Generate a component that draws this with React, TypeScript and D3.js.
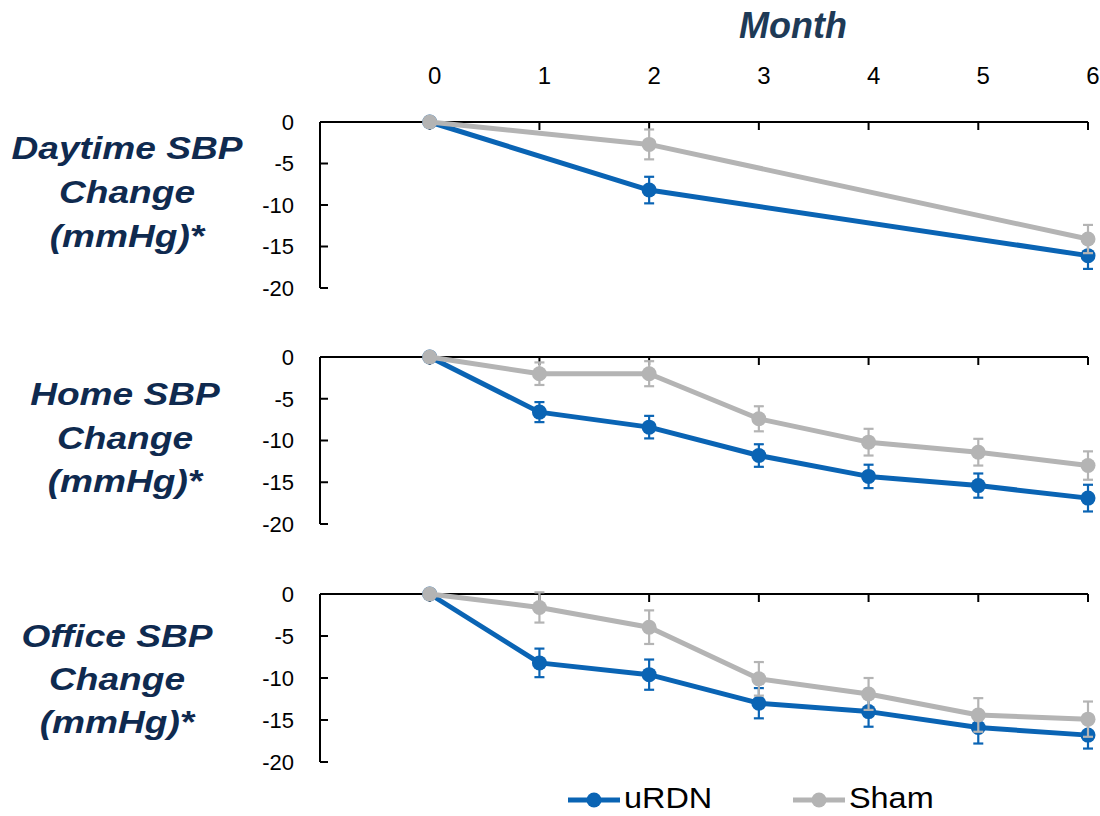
import React, { useEffect, useRef } from 'react';
import * as d3 from 'd3';

// months on the shared x axis
const months = [0, 1, 2, 3, 4, 5, 6];
const yTicks = [0, -5, -10, -15, -20];

// daytime ambulatory SBP (only measured at 0, 2 and 6 months)
const dayMonths = [0, 2, 6];
const dayURDN = [0, -8.2, -16.1];
const dayURDNErr = [0, 1.6, 1.6];
const daySham = [0, -2.7, -14.1];
const dayShamErr = [0, 1.8, 1.7];

// home SBP
const homeURDN = [0, -6.6, -8.4, -11.8, -14.3, -15.4, -16.9];
const homeURDNErr = [0, 1.2, 1.35, 1.35, 1.4, 1.45, 1.6];
const homeSham = [0, -2.0, -2.0, -7.4, -10.2, -11.4, -13.0];
const homeShamErr = [0, 1.35, 1.5, 1.5, 1.6, 1.6, 1.7];

// office SBP
const officeURDN = [0, -8.2, -9.6, -13.0, -14.0, -15.9, -16.8];
const officeURDNErr = [0, 1.7, 1.8, 1.8, 1.8, 1.9, 1.6];
const officeSham = [0, -1.6, -3.95, -10.1, -11.9, -14.4, -14.9];
const officeShamErr = [0, 1.8, 2.0, 2.0, 1.9, 2.0, 2.1];

const seriesNames = ['uRDN', 'Sham'];
const BLUE = '#0a64b4';
const GRAY = '#b4b4b4';
const NAVY = '#0f2a4f';
const FONT = '"Liberation Sans", Arial, sans-serif';

export default function App() {
  const ref = useRef<SVGSVGElement>(null);

  useEffect(() => {
    const svg = d3.select(ref.current);
    svg.selectAll('*').remove();

    const x = d3.scaleLinear().domain([-1, 6]).range([320, 1088]);

    const panels = [
      { title: ['Daytime SBP', 'Change', '(mmHg)*'], top: 122, h: 166, tx: 127, ty: [159, 203, 247],
        m: dayMonths, a: dayURDN, aErr: dayURDNErr, b: daySham, bErr: dayShamErr },
      { title: ['Home SBP', 'Change', '(mmHg)*'], top: 357, h: 167, tx: 125, ty: [405, 448.5, 492],
        m: months, a: homeURDN, aErr: homeURDNErr, b: homeSham, bErr: homeShamErr },
      { title: ['Office SBP', 'Change', '(mmHg)*'], top: 594, h: 168, tx: 117, ty: [646.5, 690, 733],
        m: months, a: officeURDN, aErr: officeURDNErr, b: officeSham, bErr: officeShamErr },
    ];

    // month header
    svg.append('text')
      .attr('x', 793).attr('y', 38)
      .attr('text-anchor', 'middle')
      .style('font-family', FONT).style('font-size', '36px')
      .style('font-weight', 700).style('font-style', 'italic')
      .attr('fill', '#1e3a56')
      .text('Month');

    svg.append('g').selectAll('text')
      .data(months)
      .enter()
      .append('text')
      .attr('x', d => x(d) + 5)
      .attr('y', 84)
      .attr('text-anchor', 'middle')
      .style('font-family', FONT).style('font-size', '24px')
      .attr('fill', '#000')
      .text(d => String(d));

    panels.forEach(p => {
      const y = d3.scaleLinear().domain([-20, 0]).range([p.top + p.h, p.top]);
      const g = svg.append('g');

      // side title, slightly stretched like the original
      p.title.forEach((t, i) => {
        g.append('text')
          .attr('transform', `translate(${p.tx},${p.ty[i]}) scale(1.16,1)`)
          .attr('text-anchor', 'middle')
          .style('font-family', FONT).style('font-size', '32px')
          .style('font-weight', 700).style('font-style', 'italic')
          .attr('fill', NAVY)
          .text(t);
      });

      // y axis, ticks point inward
      g.append('line')
        .attr('x1', x(-1)).attr('x2', x(-1))
        .attr('y1', y(0)).attr('y2', y(-20))
        .attr('stroke', '#000').attr('stroke-width', 2);
      g.selectAll('.ytick')
        .data(yTicks.slice(1))
        .enter()
        .append('line')
        .attr('x1', x(-1)).attr('x2', x(-1) + 8)
        .attr('y1', d => y(d)).attr('y2', d => y(d))
        .attr('stroke', '#000').attr('stroke-width', 2);
      g.selectAll('.ylab')
        .data(yTicks)
        .enter()
        .append('text')
        .attr('x', 294)
        .attr('y', d => y(d))
        .attr('dy', '0.36em')
        .attr('text-anchor', 'end')
        .style('font-family', FONT).style('font-size', '22px')
        .attr('fill', '#000')
        .text(d => (d < 0 ? '-' + Math.abs(d) : String(d)));

      // zero line with ticks pointing down
      g.append('line')
        .attr('x1', x(-1)).attr('x2', x(6))
        .attr('y1', y(0)).attr('y2', y(0))
        .attr('stroke', '#000').attr('stroke-width', 2);
      g.selectAll('.xtick')
        .data(months)
        .enter()
        .append('line')
        .attr('x1', d => x(d)).attr('x2', d => x(d))
        .attr('y1', y(0)).attr('y2', y(0) + 8)
        .attr('stroke', '#000').attr('stroke-width', 2);

      const line = d3.line<[number, number]>()
        .x(d => x(d[0]))
        .y(d => y(d[1]));

      const series = [
        { vals: p.a, errs: p.aErr, color: BLUE },
        { vals: p.b, errs: p.bErr, color: GRAY },
      ];

      series.forEach(s => {
        const pts = p.m.map((mo, i) => ({ mo, v: s.vals[i], e: s.errs[i] }));
        g.append('path')
          .datum(pts.map(d => [d.mo, d.v] as [number, number]))
          .attr('fill', 'none')
          .attr('stroke', s.color)
          .attr('stroke-width', 5)
          .attr('stroke-linejoin', 'round')
          .attr('d', line);

        const eb = g.selectAll(null)
          .data(pts.filter(d => d.e > 0))
          .enter()
          .append('g')
          .attr('stroke', s.color)
          .attr('stroke-width', 2.2);
        eb.append('line')
          .attr('x1', d => x(d.mo)).attr('x2', d => x(d.mo))
          .attr('y1', d => y(d.v + d.e)).attr('y2', d => y(d.v - d.e));
        eb.append('line')
          .attr('x1', d => x(d.mo) - 5).attr('x2', d => x(d.mo) + 5)
          .attr('y1', d => y(d.v + d.e)).attr('y2', d => y(d.v + d.e));
        eb.append('line')
          .attr('x1', d => x(d.mo) - 5).attr('x2', d => x(d.mo) + 5)
          .attr('y1', d => y(d.v - d.e)).attr('y2', d => y(d.v - d.e));

        g.selectAll(null)
          .data(pts)
          .enter()
          .append('circle')
          .attr('cx', d => x(d.mo))
          .attr('cy', d => y(d.v))
          .attr('r', 7.5)
          .attr('fill', s.color);
      });
    });

    // legend
    const legend = svg.append('g');
    const legendX = [568, 793];
    seriesNames.forEach((name, i) => {
      const c = i === 0 ? BLUE : GRAY;
      const lx = legendX[i];
      legend.append('line')
        .attr('x1', lx).attr('x2', lx + 52)
        .attr('y1', 800).attr('y2', 800)
        .attr('stroke', c).attr('stroke-width', 5);
      legend.append('circle')
        .attr('cx', lx + 26).attr('cy', 800).attr('r', 7.5)
        .attr('fill', c);
      legend.append('text')
        .attr('transform', `translate(${lx + 56},808) scale(1.08,1)`)
        .style('font-family', FONT).style('font-size', '30px')
        .attr('fill', '#000')
        .text(name);
    });
  }, []);

  return (
    <svg
      ref={ref}
      width={1100}
      height={816}
      style={{ position: 'absolute', left: 0, top: 0, background: '#fff' }}
    />
  );
}
